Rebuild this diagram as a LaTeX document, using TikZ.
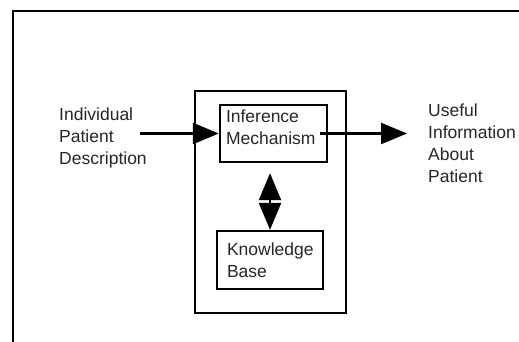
\documentclass[tikz,border=0pt]{standalone}
\usepackage{fontspec}
\setmainfont{Liberation Sans}
\usepackage{tikz}
\usetikzlibrary{positioning,calc,arrows.meta}

\tikzset{
    blk/.style={draw, line width=2.4pt, inner sep=0pt},
    lbl/.style={align=left, inner sep=0pt, text=black!85, font=\fontsize{17.5}{22}\selectfont},
    flow/.style={line width=2.4pt, -{Triangle[length=26pt, width=21pt]}},
    dbl/.style={line width=2.4pt, {Triangle[length=27pt, width=22pt]}-{Triangle[length=27pt, width=22pt]}}
}

\begin{document}
\begin{tikzpicture}[x=1pt, y=-1pt]
    \useasboundingbox (0,0) rectangle (519,342);
    % frame
    \draw[line width=2.4pt] (519,11) -- (13,11) -- (13,342);

    % system
    \node[blk, minimum width=151pt, minimum height=222pt] (sys) at (270.5,202) {};
    \node[blk, minimum width=107pt, minimum height=57pt] (inf) at (273.5,133.5) {};
    \node[lbl, anchor=north west] at ([xshift=7pt, yshift=-6pt]inf.north west) {Inference\\Mechanism};
    \node[blk, minimum width=106pt, minimum height=58pt] (kb) at (270,260) {};
    \node[lbl, anchor=north west] at ([xshift=11pt, yshift=-13pt]kb.north west) {Knowledge\\Base};

    % input and output
    \node[lbl, anchor=west] (desc) at (59,138) {Individual\\Patient\\Description};
    \node[lbl, anchor=west] (info) at (428,143) {Useful\\Information\\About\\Patient};

    \draw[flow] ([xshift=-7pt]desc.east |- inf.west) -- (inf.west);
    \draw[flow] ([xshift=-8pt]inf.east) -- ([xshift=-21pt]info.west |- inf.east);
    \draw[dbl] ([yshift=-10pt]kb.north |- inf.south) -- (kb.north);
\end{tikzpicture}
\end{document}
